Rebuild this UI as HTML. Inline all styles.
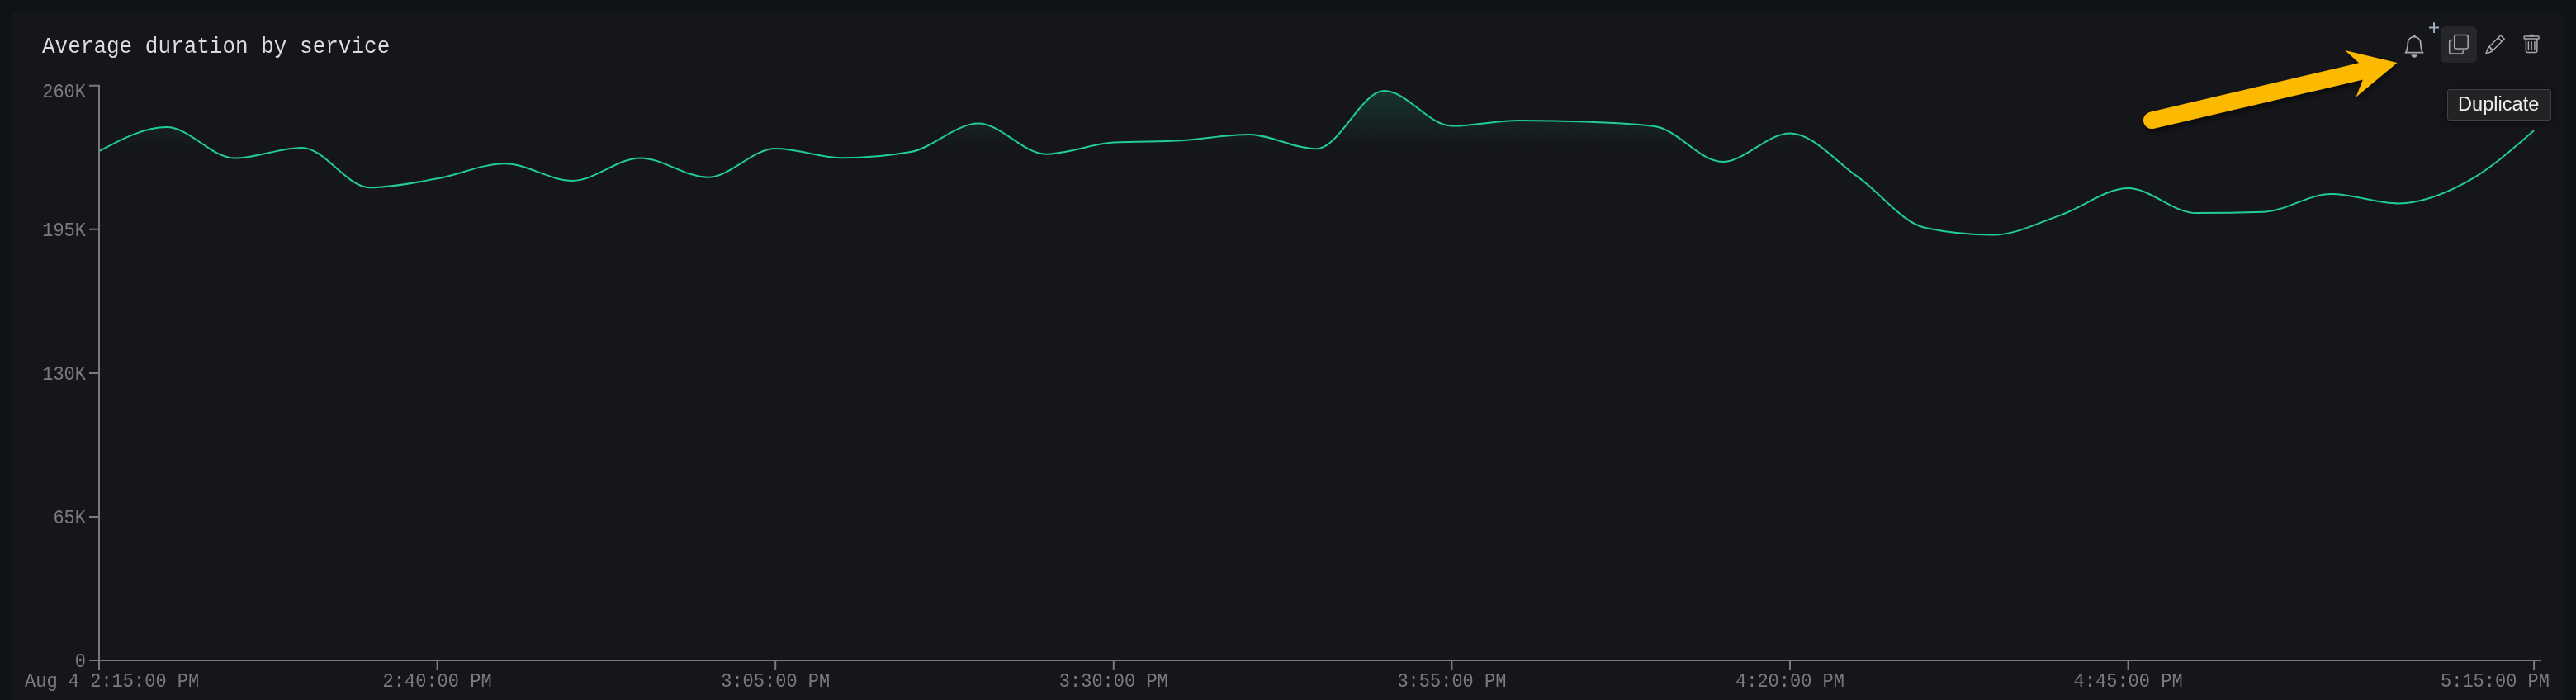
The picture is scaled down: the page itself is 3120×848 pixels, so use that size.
<!DOCTYPE html>
<html><head><meta charset="utf-8">
<style>
html,body{margin:0;padding:0;}
body{width:3120px;height:848px;background:#0f1216;overflow:hidden;position:relative;font-family:"Liberation Mono",monospace;}
#panel{position:absolute;left:14px;top:16px;width:3090px;height:900px;background:#15161a;border-radius:3px;box-sizing:border-box;border:1px solid #18191d;}
.title{position:absolute;left:51px;top:39px;font-size:26px;line-height:36px;color:#dcdcdf;white-space:pre;transform:scaleY(1.05);transform-origin:0 25px;}
svg{position:absolute;left:0;top:0;}
.yl{position:absolute;right:3016px;font-size:22px;line-height:26px;color:#7b7b7b;text-align:right;white-space:pre;transform:scaleY(1.06);transform-origin:0 18px;}
.xl{position:absolute;top:814px;font-size:22px;line-height:26px;color:#7b7b7b;white-space:pre;transform:scaleY(1.06);transform-origin:0 18px;}
.tip{position:absolute;left:2964px;top:108px;width:126px;height:38px;box-sizing:border-box;background:#232326;border:1px solid #434346;border-radius:3px;box-shadow:0 2px 10px rgba(0,0,0,0.5);font-family:"Liberation Sans",sans-serif;font-size:23.6px;color:#eeeeee;line-height:34px;white-space:pre;padding-left:12px;}
.tip span{display:inline-block;transform:scaleY(1.001);transform-origin:0 22px;}
.btn{position:absolute;left:2956px;top:32px;width:44px;height:44px;border-radius:6px;background:#25272b;}
</style></head><body>
<div id="panel"></div>
<div class="title">Average duration by service</div>
<svg width="3120" height="848" viewBox="0 0 3120 848">
<defs>
<linearGradient id="g" x1="0" y1="0" x2="0" y2="1">
<stop offset="0" stop-color="#21cc9a" stop-opacity="0.16"/>
<stop offset="0.1" stop-color="#21cc9a" stop-opacity="0"/>
</linearGradient>
<filter id="sh" x="-10%" y="-30%" width="120%" height="160%"><feDropShadow dx="1" dy="4" stdDeviation="3" flood-color="#000" flood-opacity="0.6"/></filter>
</defs>
<path d="M120,183.1C147.31,168.55,174.61,154,201.92,154C229.23,154,256.53,191.6,283.84,191.6C311.15,191.6,338.45,178.9,365.76,178.9C393.07,178.9,420.37,227.2,447.68,227.2C474.99,227.2,502.29,221.12,529.6,216.3C556.91,211.48,584.21,198.3,611.52,198.3C638.83,198.3,666.13,218.9,693.44,218.9C720.75,218.9,748.05,191.5,775.36,191.5C802.67,191.5,829.97,214.7,857.28,214.7C884.59,214.7,911.89,180,939.2,180C966.51,180,993.81,191.3,1021.12,191.3C1048.43,191.3,1075.73,188.87,1103.04,184C1130.35,179.13,1157.65,149.6,1184.96,149.6C1212.27,149.6,1239.57,186.7,1266.88,186.7C1294.19,186.7,1321.49,174.2,1348.8,172.6C1376.11,171,1403.41,171.78,1430.72,170.2C1458.03,168.62,1485.33,163.1,1512.64,163.1C1539.95,163.1,1567.25,180.3,1594.56,180.3C1621.87,180.3,1649.17,110,1676.48,110C1703.79,110,1731.09,152.6,1758.4,152.6C1785.71,152.6,1813.01,146,1840.32,146C1867.63,146,1894.93,146.53,1922.24,147.6C1949.55,148.67,1976.85,149.37,2004.16,152.9C2031.47,156.43,2058.77,196,2086.08,196C2113.39,196,2140.69,161.4,2168,161.4C2195.31,161.4,2222.61,195,2249.92,214.1C2277.23,233.2,2304.53,270.27,2331.84,276C2359.15,281.73,2386.45,284.6,2413.76,284.6C2441.07,284.6,2468.37,270.03,2495.68,260.6C2522.99,251.17,2550.29,228,2577.6,228C2604.91,228,2632.21,258.1,2659.52,258.1C2686.83,258.1,2714.13,257.63,2741.44,256.7C2768.75,255.77,2796.05,235,2823.36,235C2850.67,235,2877.97,246.4,2905.28,246.4C2932.59,246.4,2959.89,235.45,2987.2,220.7C3014.51,205.95,3041.81,181.93,3069.12,157.9L3069.12,800L120,800Z" fill="url(#g)"/>
<path d="M120,183.1C147.31,168.55,174.61,154,201.92,154C229.23,154,256.53,191.6,283.84,191.6C311.15,191.6,338.45,178.9,365.76,178.9C393.07,178.9,420.37,227.2,447.68,227.2C474.99,227.2,502.29,221.12,529.6,216.3C556.91,211.48,584.21,198.3,611.52,198.3C638.83,198.3,666.13,218.9,693.44,218.9C720.75,218.9,748.05,191.5,775.36,191.5C802.67,191.5,829.97,214.7,857.28,214.7C884.59,214.7,911.89,180,939.2,180C966.51,180,993.81,191.3,1021.12,191.3C1048.43,191.3,1075.73,188.87,1103.04,184C1130.35,179.13,1157.65,149.6,1184.96,149.6C1212.27,149.6,1239.57,186.7,1266.88,186.7C1294.19,186.7,1321.49,174.2,1348.8,172.6C1376.11,171,1403.41,171.78,1430.72,170.2C1458.03,168.62,1485.33,163.1,1512.64,163.1C1539.95,163.1,1567.25,180.3,1594.56,180.3C1621.87,180.3,1649.17,110,1676.48,110C1703.79,110,1731.09,152.6,1758.4,152.6C1785.71,152.6,1813.01,146,1840.32,146C1867.63,146,1894.93,146.53,1922.24,147.6C1949.55,148.67,1976.85,149.37,2004.16,152.9C2031.47,156.43,2058.77,196,2086.08,196C2113.39,196,2140.69,161.4,2168,161.4C2195.31,161.4,2222.61,195,2249.92,214.1C2277.23,233.2,2304.53,270.27,2331.84,276C2359.15,281.73,2386.45,284.6,2413.76,284.6C2441.07,284.6,2468.37,270.03,2495.68,260.6C2522.99,251.17,2550.29,228,2577.6,228C2604.91,228,2632.21,258.1,2659.52,258.1C2686.83,258.1,2714.13,257.63,2741.44,256.7C2768.75,255.77,2796.05,235,2823.36,235C2850.67,235,2877.97,246.4,2905.28,246.4C2932.59,246.4,2959.89,235.45,2987.2,220.7C3014.51,205.95,3041.81,181.93,3069.12,157.9" fill="none" stroke="#21cc9a" stroke-width="2"/>
<g stroke="#7a7a7a" stroke-width="2" fill="none">
<path d="M108,103.8H120V800H3078"/>
<path d="M108,277.8H120M108,451.9H120M108,625.9H120M108,800H120"/>
<path d="M120,800V812M529.6,800V812M939.2,800V812M1348.8,800V812M1758.4,800V812M2168,800V812M2577.6,800V812M3069.1,800V812"/>
</g>
</svg>
<div class="yl" style="top:100px">260K</div>
<div class="yl" style="top:268px">195K</div>
<div class="yl" style="top:442px">130K</div>
<div class="yl" style="top:616px">65K</div>
<div class="yl" style="top:790px">0</div>
<div class="xl" style="left:30px">Aug 4 2:15:00 PM</div>
<div class="xl" style="left:463.6px">2:40:00 PM</div>
<div class="xl" style="left:873.2px">3:05:00 PM</div>
<div class="xl" style="left:1282.8px">3:30:00 PM</div>
<div class="xl" style="left:1692.4px">3:55:00 PM</div>
<div class="xl" style="left:2102px">4:20:00 PM</div>
<div class="xl" style="left:2511.6px">4:45:00 PM</div>
<div class="xl" style="left:2956px">5:15:00 PM</div>
<div class="btn"></div>
<svg width="3120" height="848" viewBox="0 0 3120 848">
<g fill="#a8a8ae">
<g transform="translate(2910.3,42.15) scale(1.72)"><path d="M8 16a2 2 0 0 0 2-2H6a2 2 0 0 0 2 2zM8 1.918l-.797.161A4.002 4.002 0 0 0 4 6c0 .628-.134 2.197-.459 3.742-.16.767-.376 1.566-.663 2.258h10.244c-.287-.692-.502-1.49-.663-2.258C12.134 8.197 12 6.628 12 6a4.002 4.002 0 0 0-3.203-3.92L8 1.917zM14.22 12c.223.447.481.801.78 1H1c.299-.199.557-.553.78-1C2.68 10.2 3 6.88 3 6c0-2.42 1.72-4.440 4.005-4.901a1 1 0 1 1 1.99 0A5.002 5.002 0 0 1 13 6c0 .88.32 4.2 1.22 6z"/></g>
<g transform="translate(2965.95,41.85) scale(1.5)"><path fill-rule="evenodd" d="M4 2a2 2 0 0 1 2-2h8a2 2 0 0 1 2 2v8a2 2 0 0 1-2 2H6a2 2 0 0 1-2-2V2Zm2-1a1 1 0 0 0-1 1v8a1 1 0 0 0 1 1h8a1 1 0 0 0 1-1V2a1 1 0 0 0-1-1H6ZM2 5a1 1 0 0 0-1 1v8a1 1 0 0 0 1 1h8a1 1 0 0 0 1-1v-1h1v1a2 2 0 0 1-2 2H2a2 2 0 0 1-2-2V6a2 2 0 0 1 2-2h1v1H2Z"/></g>
<g transform="translate(3009.95,42) scale(1.5)"><path d="M12.146.146a.5.5 0 0 1 .708 0l3 3a.5.5 0 0 1 0 .708l-10 10a.5.5 0 0 1-.168.11l-5 2a.5.5 0 0 1-.65-.65l2-5a.5.5 0 0 1 .11-.168l10-10zM11.207 2.5 13.5 4.793 14.793 3.5 12.5 1.207 11.207 2.5zm1.586 3L10.5 3.207 4 9.707V10h.5a.5.5 0 0 1 .5.5v.5h.5a.5.5 0 0 1 .5.5v.5h.293l6.5-6.5zm-9.761 5.175-.106.106-1.528 3.821 3.821-1.528.106-.106A.5.5 0 0 1 5 12.5V12h-.5a.5.5 0 0 1-.5-.5V11h-.5a.5.5 0 0 1-.468-.325z"/></g>
<g transform="translate(3054.15,41.8) scale(1.5)"><path d="M5.5 5.5A.5.5 0 0 1 6 6v6a.5.5 0 0 1-1 0V6a.5.5 0 0 1 .5-.5zm2.5 0a.5.5 0 0 1 .5.5v6a.5.5 0 0 1-1 0V6a.5.5 0 0 1 .5-.5zm3 .5a.5.5 0 0 0-1 0v6a.5.5 0 0 0 1 0V6z"/><path fill-rule="evenodd" d="M14.5 3a1 1 0 0 1-1 1H13v9a2 2 0 0 1-2 2H5a2 2 0 0 1-2-2V4h-.5a1 1 0 0 1-1-1V2a1 1 0 0 1 1-1H6a1 1 0 0 1 1-1h2a1 1 0 0 1 1 1h3.5a1 1 0 0 1 1 1v1zM4.118 4 4 4.059V13a1 1 0 0 0 1 1h6a1 1 0 0 0 1-1V4.059L11.882 4H4.118zM2.5 3V2h11v1h-11z"/></g>
</g>
<path d="M2948,27.3V39.9M2942,33.6H2954" stroke="#9aabc3" stroke-width="2" fill="none"/>
<!-- arrow -->
<g filter="url(#sh)">
<path d="M2903.40,76.10L2853.56,117.58L2861.94,96.41L2608.65,155.83A10,10,0,0,1,2603.95,135.77L2857.24,76.35L2840.31,61.11Z" fill="#fbb900"/>
</g>
</svg>
<div class="tip"><span>Duplicate</span></div>
</body></html>
